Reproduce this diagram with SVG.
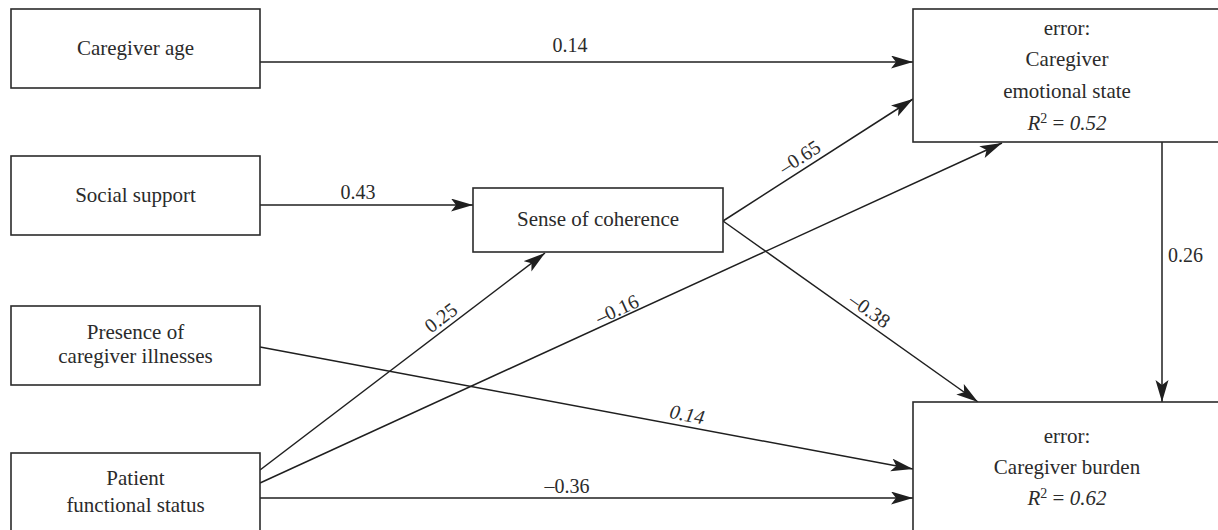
<svg xmlns="http://www.w3.org/2000/svg" width="1218" height="530" viewBox="0 0 1218 530">
  <style>
    .box { fill: #ffffff; stroke: #2b2b2b; stroke-width: 1.6; }
    .t { font-family: 'Liberation Serif', 'DejaVu Serif', serif; font-size: 21px; fill: #2b2b2b; text-anchor: middle; }
    .lbl { font-family: 'Liberation Serif', 'DejaVu Serif', serif; font-size: 20px; fill: #2b2b2b; text-anchor: middle; }
    .it { font-style: italic; }
    .edge { fill: none; stroke: #1f1f1f; stroke-width: 1.5; }
  </style>
  <defs>
    <marker id="ah" markerUnits="userSpaceOnUse" markerWidth="24" markerHeight="14" refX="22" refY="6.5" orient="auto">
      <path d="M0,0 L22,6.5 L0,13 L5,6.5 Z" fill="#1f1f1f"/>
    </marker>
  </defs>
  <rect width="1218" height="530" fill="#ffffff"/>

  <g id="connectors">
    <line class="edge" x1="257" y1="62" x2="913" y2="62" marker-end="url(#ah)"/>
    <line class="edge" x1="260" y1="205" x2="473" y2="205" marker-end="url(#ah)"/>
    <line class="edge" x1="723" y1="221" x2="913" y2="99" marker-end="url(#ah)"/>
    <line class="edge" x1="723" y1="221" x2="978" y2="402" marker-end="url(#ah)"/>
    <line class="edge" x1="260" y1="470" x2="545" y2="253" marker-end="url(#ah)"/>
    <line class="edge" x1="260" y1="483" x2="1002" y2="143" marker-end="url(#ah)"/>
    <line class="edge" x1="260" y1="347" x2="913" y2="469" marker-end="url(#ah)"/>
    <line class="edge" x1="260" y1="498" x2="913" y2="498" marker-end="url(#ah)"/>
    <line class="edge" x1="1162" y1="142" x2="1162" y2="402" marker-end="url(#ah)"/>

    <text class="lbl" font-family="Liberation Serif, serif" x="570" y="52">0.14</text>
    <text class="lbl" font-family="Liberation Serif, serif" x="358" y="199">0.43</text>
    <text class="lbl" font-family="Liberation Serif, serif" x="567" y="493">–0.36</text>
    <text class="lbl" font-family="Liberation Serif, serif" x="1168" y="262" text-anchor="start" style="text-anchor:start">0.26</text>
    <text class="lbl" font-family="Liberation Serif, serif" transform="translate(806,167) rotate(-32.8)" y="-5">–0.65</text>
    <text class="lbl" font-family="Liberation Serif, serif" transform="translate(448,327) rotate(-37.3)" y="-5">0.25</text>
    <text class="lbl" font-family="Liberation Serif, serif" transform="translate(622,320) rotate(-24.6)" y="-5">–0.16</text>
    <text class="lbl" font-family="Liberation Serif, serif" transform="translate(863,320) rotate(35.4)" y="-5">–0.38</text>
    <text class="lbl it" font-family="Liberation Serif, serif" transform="translate(685,426) rotate(10.6)" y="-5">0.14</text>
  </g>

  <g id="caregiver-age" font-family="Liberation Serif, serif">
    <rect class="box" x="11" y="9" width="249" height="79"/>
    <text class="t" x="135.5" y="55">Caregiver age</text>
  </g>

  <g id="social-support" font-family="Liberation Serif, serif">
    <rect class="box" x="11" y="156" width="249" height="79"/>
    <text class="t" x="135.5" y="202">Social support</text>
  </g>

  <g id="caregiver-illnesses" font-family="Liberation Serif, serif">
    <rect class="box" x="11" y="306" width="249" height="79"/>
    <text class="t" x="135.5" y="339">Presence of</text>
    <text class="t" x="135.5" y="363">caregiver illnesses</text>
  </g>

  <g id="patient-functional-status" font-family="Liberation Serif, serif">
    <rect class="box" x="11" y="453" width="249" height="90"/>
    <text class="t" x="135.5" y="485">Patient</text>
    <text class="t" x="135.5" y="512">functional status</text>
  </g>

  <g id="sense-of-coherence" font-family="Liberation Serif, serif">
    <rect class="box" x="473" y="188" width="250" height="64"/>
    <text class="t" x="598" y="226">Sense of coherence</text>
  </g>

  <g id="emotional-state" font-family="Liberation Serif, serif">
    <rect class="box" x="913" y="9" width="320" height="133"/>
    <text class="t" x="1067" y="35">error:</text>
    <text class="t" x="1067" y="66">Caregiver</text>
    <text class="t" x="1067" y="98">emotional state</text>
    <text class="t" x="1067" y="130"><tspan class="it">R</tspan><tspan font-size="14" dy="-7">2</tspan><tspan dy="7"> = </tspan><tspan class="it">0.52</tspan></text>
  </g>

  <g id="caregiver-burden" font-family="Liberation Serif, serif">
    <rect class="box" x="913" y="402" width="320" height="150"/>
    <text class="t" x="1067" y="443">error:</text>
    <text class="t" x="1067" y="474">Caregiver burden</text>
    <text class="t" x="1067" y="505"><tspan class="it">R</tspan><tspan font-size="14" dy="-7">2</tspan><tspan dy="7"> = </tspan><tspan class="it">0.62</tspan></text>
  </g>
</svg>
